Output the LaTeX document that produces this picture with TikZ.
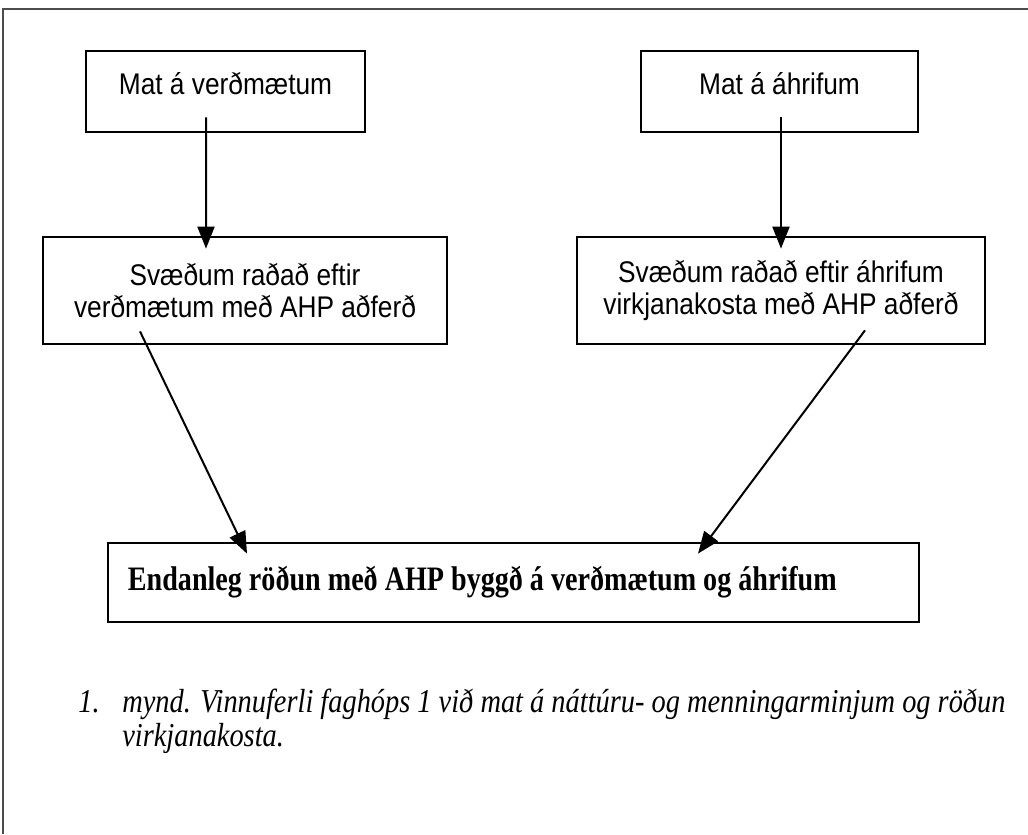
\documentclass[tikz,border=0pt]{standalone}
\usepackage{fontspec}
\setmainfont{Liberation Serif}
\newfontfamily\boxfont[FakeStretch=0.88]{Liberation Sans}
\newfontfamily\lokafont[FakeStretch=0.82]{Liberation Serif}
\newfontfamily\myndfont[FakeStretch=0.85]{Liberation Serif}
\usetikzlibrary{arrows.meta}

\begin{document}
\begin{tikzpicture}[x=0.2mm, y=-0.2mm,
  kassi/.style={draw, line width=0.55mm, inner sep=0pt, align=center,
    font=\boxfont\fontsize{17}{18.2}\selectfont},
  or/.style={line width=0.4mm, -{Triangle[length=4.4mm, width=3.4mm]}},
  mynd/.style={anchor=base west, inner sep=0pt,
    font=\myndfont\itshape\fontsize{19}{19.3}\selectfont}]
  \useasboundingbox (0,0) rectangle (1028,834);
  \draw[black!70, line width=0.4mm] (1028,9) -- (3,9) -- (3,834);
  \node[kassi, minimum width=55.8mm, minimum height=16.2mm, text height=4.2mm, text depth=2.8mm]
    (matver) at (225.5,91.5) {Mat á verðmætum};
  \node[kassi, minimum width=55.4mm, minimum height=16.2mm, text height=4.2mm, text depth=2.8mm]
    (mathrif) at (779.5,91.5) {Mat á áhrifum};
  \node[kassi, minimum width=80.8mm, minimum height=21.4mm] (radver) at (245,290.5)
    {Svæðum raðað eftir\\verðmætum með AHP aðferð};
  \node[kassi, minimum width=81.6mm, minimum height=21.4mm] (radhrif) at (781,290.5)
    {Svæðum raðað eftir áhrifum\\virkjanakosta með AHP aðferð};
  \node[kassi, minimum width=162.2mm, minimum height=15.8mm, align=flush left,
    text width=154.2mm, inner xsep=4mm,
    font=\lokafont\bfseries\fontsize{19.5}{22}\selectfont] (loka) at (513.5,582.5)
    {Endanleg röðun með AHP byggð á verðmætum og áhrifum};
  % örvarnar byrja inni í kössunum og stinga sér í þann næsta
  \draw[or] ([xshift=-3.9mm, yshift=3.2mm]matver.south) -- ([xshift=-7.8mm, yshift=-2.6mm]radver.north);
  \draw[or] ([xshift=0.3mm, yshift=3.2mm]mathrif.south) -- ([yshift=-2.6mm]radhrif.north);
  \draw[or] ([xshift=-21mm, yshift=2.8mm]radver.south) -- ([xshift=-53.3mm, yshift=-2.4mm]loka.north);
  \draw[or] ([xshift=16.8mm, yshift=3mm]radhrif.south) -- ([xshift=36.9mm, yshift=-2.4mm]loka.north);
  \node[mynd] (nr) at (78,712) {1.};
  \node[mynd] (lina1) at (122,712) {mynd. Vinnuferli faghóps 1 við mat á náttúru- og menningarminjum og röðun};
  \node[mynd] (lina2) at (122,746) {virkjanakosta.};
\end{tikzpicture}
\end{document}
